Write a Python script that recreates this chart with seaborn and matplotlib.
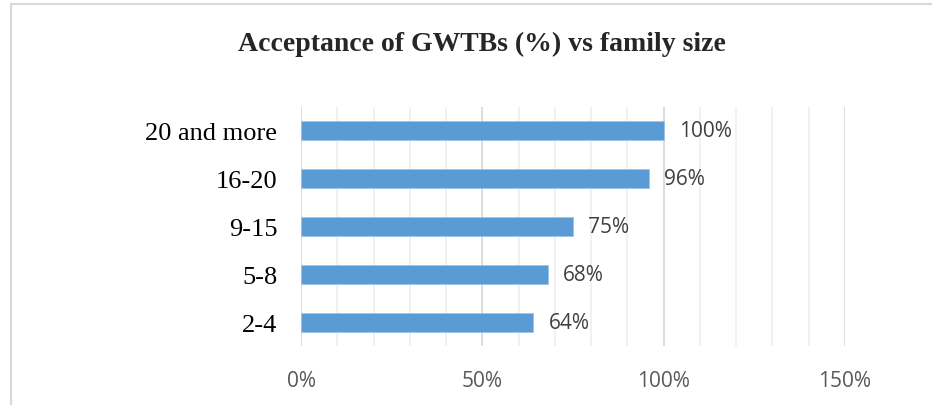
import matplotlib
matplotlib.use('Agg')
import matplotlib.pyplot as plt
import seaborn as sns
import pandas as pd
from matplotlib.ticker import MultipleLocator, FuncFormatter
from matplotlib.patches import Rectangle

# data
family_size = ['20 and more', '16-20', '9-15', '5-8', '2-4']
acceptance = [100, 96, 75, 68, 64]
x_ticks = [0, 50, 100, 150]

df = pd.DataFrame({'size': family_size, 'acceptance': acceptance})

sns.set_style('white')
fig = plt.figure(figsize=(9.32, 4.06), dpi=100)
ax = fig.add_axes([301 / 932, 1 - 347 / 406, 544 / 932, 239 / 406])

sns.barplot(data=df, x='acceptance', y='size', order=family_size, orient='h',
            color='#5B9BD5', saturation=1, width=0.4, ax=ax,
            edgecolor='#9DC3E6', linewidth=0.6, zorder=3)

ax.set_xlim(0, 150)
ax.set_xticks(x_ticks)
ax.xaxis.set_minor_locator(MultipleLocator(10))
ax.xaxis.set_major_formatter(FuncFormatter(lambda v, p: f'{v:.0f}%'))
ax.grid(axis='x', which='major', color='#D9D9D9', linewidth=1.3, zorder=0)
ax.grid(axis='x', which='minor', color='#EEEEEE', linewidth=1.1, zorder=0)
ax.set_axisbelow(True)
for s in ax.spines.values():
    s.set_visible(False)
ax.set_xlabel('')
ax.set_ylabel('')
ax.tick_params(axis='x', which='both', length=0, pad=17, labelsize=15, labelcolor='#595959')
ax.tick_params(axis='y', length=0, pad=17, labelsize=19)
for lab in ax.get_xticklabels():
    lab.set_family(['Open Sans', 'DejaVu Sans'])
for lab in ax.get_yticklabels():
    lab.set_family(['Liberation Serif', 'DejaVu Serif'])
    lab.set_color('black')

for c in ax.containers:
    ax.bar_label(c, labels=[f'{v:.0f}%' for v in acceptance], padding=11,
                 fontsize=15, color='#404040', family=['Open Sans', 'DejaVu Sans'])

fig.text(482 / 932, 1 - 44 / 406, 'Acceptance of GWTBs (%) vs family size',
         ha='center', va='center', fontsize=20, fontweight='bold',
         family=['Liberation Serif', 'DejaVu Serif'])

# outer chart frame (top and left edges visible)
fig.patches.append(Rectangle((11 / 932, -0.1), 1.0, 1 - 5 / 406 + 0.1,
                             transform=fig.transFigure, fill=False,
                             edgecolor='#D9D9D9', linewidth=1.5))

fig.savefig('out.png', dpi=100)
